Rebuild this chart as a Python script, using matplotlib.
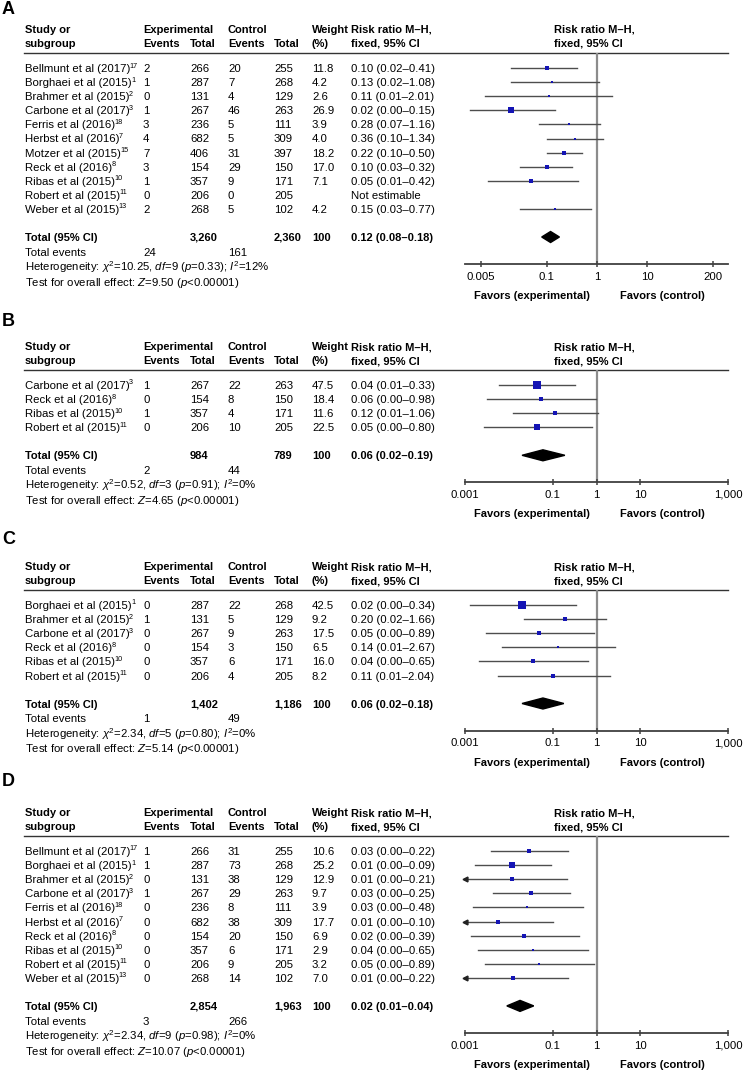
import matplotlib.pyplot as plt
import numpy as np
from matplotlib.ticker import NullLocator, FixedLocator, FixedFormatter

plt.rcParams['font.family'] = ['Liberation Sans', 'DejaVu Sans']
plt.rcParams['mathtext.fontset'] = 'custom'
plt.rcParams['mathtext.rm'] = 'Liberation Sans'
plt.rcParams['mathtext.it'] = 'Liberation Sans:italic'
plt.rcParams['mathtext.bf'] = 'Liberation Sans:bold'

# ---------------- panel A ----------------
a_names = ["Bellmunt et al (2017)", "Borghaei et al (2015)", "Brahmer et al (2015)",
           "Carbone et al (2017)", "Ferris et al (2016)", "Herbst et al (2016)",
           "Motzer et al (2015)", "Reck et al (2016)", "Ribas et al (2015)",
           "Robert et al (2015)", "Weber et al (2015)"]
a_refs = ["17", "1", "2", "3", "18", "7", "15", "8", "10", "11", "13"]
a_exp_ev = ["2", "1", "0", "1", "3", "4", "7", "3", "1", "0", "2"]
a_exp_tot = ["266", "287", "131", "267", "236", "682", "406", "154", "357", "206", "268"]
a_ctl_ev = ["20", "7", "4", "46", "5", "5", "31", "29", "9", "0", "5"]
a_ctl_tot = ["255", "268", "129", "263", "111", "309", "397", "150", "171", "205", "102"]
a_weight = [11.8, 4.2, 2.6, 26.9, 3.9, 4.0, 18.2, 17.0, 7.1, None, 4.2]
a_rr_txt = ["0.10 (0.02–0.41)", "0.13 (0.02–1.08)", "0.11 (0.01–2.01)", "0.02 (0.00–0.15)",
            "0.28 (0.07–1.16)", "0.36 (0.10–1.34)", "0.22 (0.10–0.50)", "0.10 (0.03–0.32)",
            "0.05 (0.01–0.42)", "Not estimable", "0.15 (0.03–0.77)"]
a_rr = [0.10, 0.13, 0.11, 0.02, 0.28, 0.36, 0.22, 0.10, 0.05, np.nan, 0.15]
a_lo = [0.02, 0.02, 0.006, 0.003, 0.07, 0.10, 0.10, 0.03, 0.007, np.nan, 0.03]
a_hi = [0.41, 1.08, 2.01, 0.15, 1.16, 1.34, 0.50, 0.32, 0.42, np.nan, 0.77]
a_total = ["3,260", "2,360", "100", "0.12 (0.08–0.18)"]
a_total_ev = ["24", "161"]
a_diamond = [0.12, 0.08, 0.18]
a_het = r"Heterogeneity: $\chi^2$=10.25, $df$=9 ($p$=0.33); $I^2$=12%"
a_test = r"Test for overall effect: $Z$=9.50 ($p$<0.00001)"
a_ticks = [0.005, 0.1, 1, 10, 200]
a_ticklabels = ["0.005", "0.1", "1", "10", "200"]

# ---------------- panel B ----------------
b_names = ["Carbone et al (2017)", "Reck et al (2016)", "Ribas et al (2015)", "Robert et al (2015)"]
b_refs = ["3", "8", "10", "11"]
b_exp_ev = ["1", "0", "1", "0"]
b_exp_tot = ["267", "154", "357", "206"]
b_ctl_ev = ["22", "8", "4", "10"]
b_ctl_tot = ["263", "150", "171", "205"]
b_weight = [47.5, 18.4, 11.6, 22.5]
b_rr_txt = ["0.04 (0.01–0.33)", "0.06 (0.00–0.98)", "0.12 (0.01–1.06)", "0.05 (0.00–0.80)"]
b_rr = [0.043, 0.054, 0.115, 0.045]
b_lo = [0.006, 0.0032, 0.0126, 0.0027]
b_hi = [0.33, 0.98, 1.06, 0.80]
b_total = ["984", "789", "100", "0.06 (0.02–0.19)"]
b_total_ev = ["2", "44"]
b_diamond = [0.06, 0.02, 0.19]
b_het = r"Heterogeneity: $\chi^2$=0.52, $df$=3 ($p$=0.91); $I^2$=0%"
b_test = r"Test for overall effect: $Z$=4.65 ($p$<0.00001)"

# ---------------- panel C ----------------
c_names = ["Borghaei et al (2015)", "Brahmer et al (2015)", "Carbone et al (2017)",
           "Reck et al (2016)", "Ribas et al (2015)", "Robert et al (2015)"]
c_refs = ["1", "2", "3", "8", "10", "11"]
c_exp_ev = ["0", "1", "0", "0", "0", "0"]
c_exp_tot = ["287", "131", "267", "154", "357", "206"]
c_ctl_ev = ["22", "5", "9", "3", "6", "4"]
c_ctl_tot = ["268", "129", "263", "150", "171", "205"]
c_weight = [42.5, 9.2, 17.5, 6.5, 16.0, 8.2]
c_rr_txt = ["0.02 (0.00–0.34)", "0.20 (0.02–1.66)", "0.05 (0.00–0.89)", "0.14 (0.01–2.67)",
            "0.04 (0.00–0.65)", "0.11 (0.01–2.04)"]
c_rr = [0.02, 0.19, 0.05, 0.13, 0.035, 0.104]
c_lo = [0.0013, 0.022, 0.003, 0.007, 0.0021, 0.0057]
c_hi = [0.34, 1.66, 0.89, 2.67, 0.65, 2.04]
c_total = ["1,402", "1,186", "100", "0.06 (0.02–0.18)"]
c_total_ev = ["1", "49"]
c_diamond = [0.06, 0.02, 0.18]
c_het = r"Heterogeneity: $\chi^2$=2.34, $df$=5 ($p$=0.80); $I^2$=0%"
c_test = r"Test for overall effect: $Z$=5.14 ($p$<0.00001)"

# ---------------- panel D ----------------
d_names = ["Bellmunt et al (2017)", "Borghaei et al (2015)", "Brahmer et al (2015)",
           "Carbone et al (2017)", "Ferris et al (2016)", "Herbst et al (2016)",
           "Reck et al (2016)", "Ribas et al (2015)", "Robert et al (2015)", "Weber et al (2015)"]
d_refs = ["17", "1", "2", "3", "18", "7", "8", "10", "11", "13"]
d_exp_ev = ["1", "1", "0", "1", "0", "0", "0", "0", "0", "0"]
d_exp_tot = ["266", "287", "131", "267", "236", "682", "154", "357", "206", "268"]
d_ctl_ev = ["31", "73", "38", "29", "8", "38", "20", "6", "9", "14"]
d_ctl_tot = ["255", "268", "129", "263", "111", "309", "150", "171", "205", "102"]
d_weight = [10.6, 25.2, 12.9, 9.7, 3.9, 17.7, 6.9, 2.9, 3.2, 7.0]
d_rr_txt = ["0.03 (0.00–0.22)", "0.01 (0.00–0.09)", "0.01 (0.00–0.21)", "0.03 (0.00–0.25)",
            "0.03 (0.00–0.48)", "0.01 (0.00–0.10)", "0.02 (0.00–0.39)", "0.04 (0.00–0.65)",
            "0.05 (0.00–0.89)", "0.01 (0.00–0.22)"]
d_rr = [0.029, 0.012, 0.012, 0.032, 0.026, 0.0056, 0.022, 0.035, 0.05, 0.0125]
d_lo = [0.004, 0.0017, 0.0005, 0.0044, 0.0015, 0.0005, 0.0014, 0.002, 0.0029, 0.0005]
d_hi = [0.22, 0.09, 0.21, 0.25, 0.48, 0.10, 0.39, 0.65, 0.89, 0.22]
d_total = ["2,854", "1,963", "100", "0.02 (0.01–0.04)"]
d_total_ev = ["3", "266"]
d_diamond = [0.018, 0.009, 0.037]
d_het = r"Heterogeneity: $\chi^2$=2.34, $df$=9 ($p$=0.98); $I^2$=0%"
d_test = r"Test for overall effect: $Z$=10.07 ($p$<0.00001)"

bcd_ticks = [0.001, 0.1, 1, 10, 1000]
bcd_ticklabels = ["0.001", "0.1", "1", "10", "1,000"]

# ---------------- layout (pixels) ----------------
W, H = 743, 1071
FS = 8.2
FSB = 8.0
ROW = 14.1
X_NAME, X_EEV, X_ETOT, X_CEV, X_CTOT, X_W, X_RR, X_HDR2 = 25, 143, 190, 228, 274, 312, 351, 554
PLOT_L, PLOT_R = 465, 728
BLUE = "#1414b4"
LINEC = "#4d4d4d"

fig = plt.figure(figsize=(W / 100, H / 100), dpi=100)
bg = fig.add_axes([0, 0, 1, 1])
bg.set_xlim(0, W)
bg.set_ylim(H, 0)
bg.axis("off")
renderer = fig.canvas.get_renderer()


def txt(x, y, s, bold=False, **kw):
    return bg.text(x, y + 4, s, fontsize=FSB if bold else FS, va="baseline", ha="left",
                   fontweight="bold" if bold else "normal", **kw)


def name_with_ref(x, y, name, ref):
    t = txt(x, y, name)
    bb = t.get_window_extent(renderer)
    # pixel -> data (data y runs downward, same as pixels)
    x_end = bg.transData.inverted().transform((bb.x1, bb.y0))[0]
    bg.text(x_end - 0.5, y - 0.5, ref, fontsize=5.2, va="baseline", ha="left")


def panel(letter, letter_y, first_y, names, refs, eev, etot, cev, ctot, weight, rr_txt,
          rr, lo, hi, total, total_ev, diamond, het, test, ticks, ticklabels, xlim):
    n = len(names)
    rows = [first_y + i * ROW for i in range(n)]
    rule_y = first_y - 15
    h1, h2 = first_y - 39, first_y - 25
    tot_y = rows[-1] + 28
    ev_y, het_y, test_y = tot_y + 15, tot_y + 30, tot_y + 45
    axis_y = het_y - 3

    bg.text(2, letter_y, letter, fontsize=13, fontweight="bold", va="center", ha="left")

    # header
    txt(X_NAME, h1, "Study or", True)
    txt(X_NAME, h2, "subgroup", True)
    txt(X_EEV, h1, "Experimental", True)
    txt(X_EEV, h2, "Events", True)
    txt(X_ETOT, h2, "Total", True)
    txt(X_CEV, h1, "Control", True)
    txt(X_CEV, h2, "Events", True)
    txt(X_CTOT, h2, "Total", True)
    txt(X_W, h1, "Weight", True)
    txt(X_W, h2, "(%)", True)
    txt(X_RR, h1, "Risk ratio M–H,", True)
    txt(X_RR, h2, "fixed, 95% CI", True)
    txt(X_HDR2, h1, "Risk ratio M–H,", True)
    txt(X_HDR2, h2, "fixed, 95% CI", True)
    bg.plot([24, PLOT_R], [rule_y, rule_y], color="#333333", lw=1)

    # study rows
    for i, y in enumerate(rows):
        name_with_ref(X_NAME, y, names[i], refs[i])
        txt(X_EEV, y, eev[i])
        txt(X_ETOT, y, etot[i])
        txt(X_CEV, y, cev[i])
        txt(X_CTOT, y, ctot[i])
        if weight[i] is not None:
            txt(X_W, y, f"{weight[i]:.1f}")
        txt(X_RR, y, rr_txt[i])

    txt(X_NAME, tot_y, "Total (95% CI)", True)
    txt(X_ETOT, tot_y, total[0], True)
    txt(X_CTOT, tot_y, total[1], True)
    txt(X_W, tot_y, total[2], True)
    txt(X_RR, tot_y, total[3], True)
    txt(X_NAME, ev_y, "Total events")
    txt(X_EEV, ev_y, total_ev[0])
    txt(X_CEV, ev_y, total_ev[1])
    txt(X_NAME, het_y, het)
    txt(X_NAME, test_y, test)

    # forest plot axes, y in pixel rows
    ax = fig.add_axes([PLOT_L / W, 1 - axis_y / H, (PLOT_R - PLOT_L) / W, (axis_y - rule_y) / H])
    ax.set_xscale("log")
    ax.set_xlim(*xlim)
    ax.set_ylim(axis_y, rule_y)
    ax.patch.set_visible(False)
    for s in ["top", "left", "right"]:
        ax.spines[s].set_visible(False)
    ax.spines["bottom"].set_color("#404040")
    ax.spines["bottom"].set_linewidth(1.3)
    ax.yaxis.set_visible(False)
    ax.xaxis.set_major_locator(FixedLocator(ticks))
    ax.xaxis.set_major_formatter(FixedFormatter(ticklabels))
    ax.xaxis.set_minor_locator(NullLocator())
    ax.tick_params(axis="x", direction="inout", length=5, width=1.1, color="#404040",
                   labelsize=FS, pad=3)
    ax.axvline(1, color="#8c8c8c", lw=1.6, zorder=1)

    for i, y in enumerate(rows):
        if np.isnan(rr[i]):
            continue
        left = max(lo[i], xlim[0])
        ax.plot([left, hi[i]], [y, y], color=LINEC, lw=1, zorder=2, clip_on=False)
        if lo[i] < xlim[0]:
            ax.plot([xlim[0]], [y], marker="<", ms=3.5, color="#222222", clip_on=False, zorder=3)
        side = max(2.0, 1.15 * np.sqrt(weight[i]))
        ax.plot([rr[i]], [y], marker="s", ms=side * 0.72, color=BLUE, mec=BLUE, mew=0,
                zorder=3, clip_on=False)

    c, l, r = diamond
    dh = 5.5
    ax.fill([l, c, r, c], [tot_y, tot_y - dh, tot_y, tot_y + dh], color="black", zorder=3,
            clip_on=False)

    fy = axis_y + 32
    bg.text(532, fy, "Favors (experimental)", fontsize=FSB, fontweight="bold", ha="center", va="center")
    bg.text(662, fy, "Favors (control)", fontsize=FSB, fontweight="bold", ha="center", va="center")


panel("A", 10, 68, a_names, a_refs, a_exp_ev, a_exp_tot, a_ctl_ev, a_ctl_tot, a_weight, a_rr_txt,
      a_rr, a_lo, a_hi, a_total, a_total_ev, a_diamond, a_het, a_test,
      a_ticks, a_ticklabels, (0.0024, 400))
panel("B", 321, 385, b_names, b_refs, b_exp_ev, b_exp_tot, b_ctl_ev, b_ctl_tot, b_weight, b_rr_txt,
      b_rr, b_lo, b_hi, b_total, b_total_ev, b_diamond, b_het, b_test,
      bcd_ticks, bcd_ticklabels, (0.001, 1000))
panel("C", 539, 605, c_names, c_refs, c_exp_ev, c_exp_tot, c_ctl_ev, c_ctl_tot, c_weight, c_rr_txt,
      c_rr, c_lo, c_hi, c_total, c_total_ev, c_diamond, c_het, c_test,
      bcd_ticks, bcd_ticklabels, (0.001, 1000))
panel("D", 782, 851, d_names, d_refs, d_exp_ev, d_exp_tot, d_ctl_ev, d_ctl_tot, d_weight, d_rr_txt,
      d_rr, d_lo, d_hi, d_total, d_total_ev, d_diamond, d_het, d_test,
      bcd_ticks, bcd_ticklabels, (0.001, 1000))

fig.savefig("out.png", dpi=100)
